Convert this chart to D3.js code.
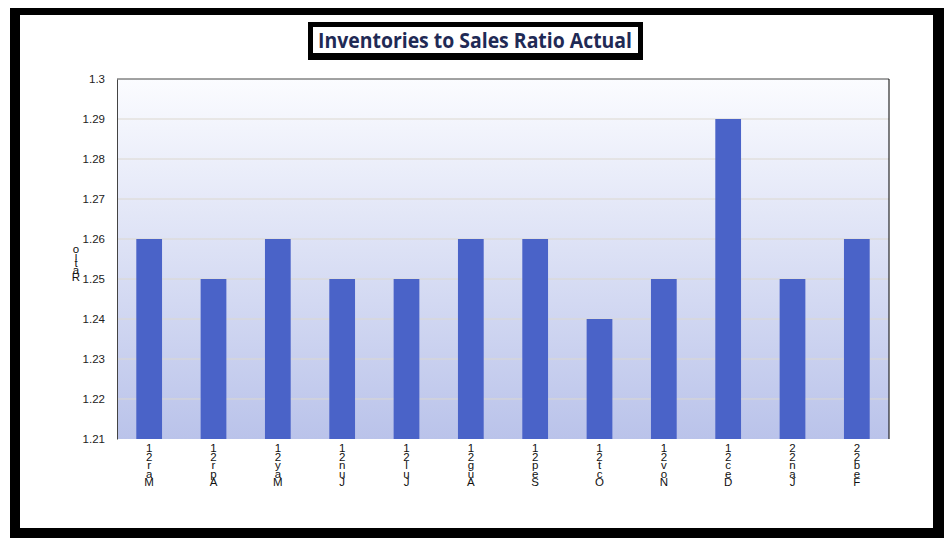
<!DOCTYPE html>
<html><head><meta charset="utf-8">
<script src="https://cdn.jsdelivr.net/npm/d3@7"></script>
<style>body{margin:0;background:#fff}svg{display:block}
.vt{writing-mode:vertical-rl;text-orientation:upright;}
</style>
</head><body>
<svg id="c" width="948" height="539"></svg>
<script>
const categories = ["Mar 21","Apr 21","May 21","Jun 21","Jul 21","Aug 21","Sep 21","Oct 21","Nov 21","Dec 21","Jan 22","Feb 22"];
const values = [1.26,1.25,1.26,1.25,1.25,1.26,1.26,1.24,1.25,1.29,1.25,1.26];
const yTicks = [1.21,1.22,1.23,1.24,1.25,1.26,1.27,1.28,1.29,1.3];
const title = "Inventories to Sales Ratio Actual";
const yTitle = "Ratio";

const svg = d3.select("#c");
const defs = svg.append("defs");
const g1 = defs.append("linearGradient").attr("id","bg").attr("x1",0).attr("y1",0).attr("x2",0).attr("y2",1);
g1.append("stop").attr("offset","0%").attr("stop-color","#fbfcff");
g1.append("stop").attr("offset","100%").attr("stop-color","#bac3ea");

// outer frame
svg.append("rect").attr("x",10).attr("y",8).attr("width",934).attr("height",530).attr("fill","#000");
svg.append("rect").attr("x",20).attr("y",15).attr("width",913).attr("height",513).attr("fill","#fff");

const m = {l:117, r:889, t:79, b:439};
const x = d3.scaleBand().domain(categories).range([m.l,m.r]).paddingInner(0.6).paddingOuter(0.3);
const y = d3.scaleLinear().domain([1.21,1.3]).range([m.b,m.t]);

svg.append("rect").attr("x",m.l).attr("y",m.t).attr("width",m.r-m.l).attr("height",m.b-m.t).attr("fill","url(#bg)");

svg.append("g").selectAll("line").data(yTicks.slice(1,-1)).join("line")
  .attr("x1",m.l).attr("x2",m.r).attr("y1",d=>y(d)).attr("y2",d=>y(d))
  .attr("stroke","#dcd8cf").attr("stroke-width",1);

svg.append("g").selectAll("rect").data(values).join("rect")
  .attr("x",(d,i)=>x(categories[i])).attr("width",x.bandwidth())
  .attr("y",d=>y(d)).attr("height",d=>y(1.21)-y(d))
  .attr("fill","#4a63c8");

// axes
const ya = svg.append("g").attr("transform",`translate(${m.l},0)`)
  .call(d3.axisLeft(y).tickValues(yTicks).tickSize(0).tickPadding(12).tickFormat(d3.format("~g")));
ya.select(".domain").attr("stroke","#444");
ya.selectAll("text").attr("font-family","Liberation Sans, Arial, sans-serif").attr("font-size",11.5).attr("fill","#222");

svg.append("line").attr("x1",m.l).attr("x2",m.r).attr("y1",m.t).attr("y2",m.t).attr("stroke","#444");
svg.append("line").attr("x1",m.r).attr("x2",m.r).attr("y1",m.t).attr("y2",m.b).attr("stroke","#000");

// x labels: characters stacked bottom to top (upright vertical text, one element each)
categories.forEach(c=>{
  const cx = x(c)+x.bandwidth()/2;
  svg.append("text").attr("class","vt").attr("x",cx).attr("y",442)
    .style("letter-spacing","-3.5px")
    .attr("font-family","Liberation Sans, Arial, sans-serif").attr("font-size",11.5).attr("fill","#111")
    .text(c.replace(" ","").split("").reverse().join(""));
});

// y title stacked
svg.append("text").attr("class","vt").attr("x",76).attr("y",243)
  .style("letter-spacing","-5px")
  .attr("font-family","Liberation Sans, Arial, sans-serif").attr("font-size",11.5).attr("fill","#111")
  .text(yTitle.split("").reverse().join(""));

// title box
svg.append("rect").attr("x",308).attr("y",22).attr("width",335).attr("height",38).attr("fill","#000");
svg.append("rect").attr("x",313).attr("y",27).attr("width",325).attr("height",26).attr("fill","#fff");
const t = svg.append("text").attr("x",475).attr("y",48).attr("text-anchor","middle")
  .attr("font-family","Open Sans, sans-serif").attr("font-weight","bold").attr("font-size",21)
  .attr("fill","#1f2a55").text(title);
const w = t.node().getComputedTextLength();
if (w > 314) t.attr("textLength",314).attr("lengthAdjust","spacingAndGlyphs");
</script>
</body></html>
